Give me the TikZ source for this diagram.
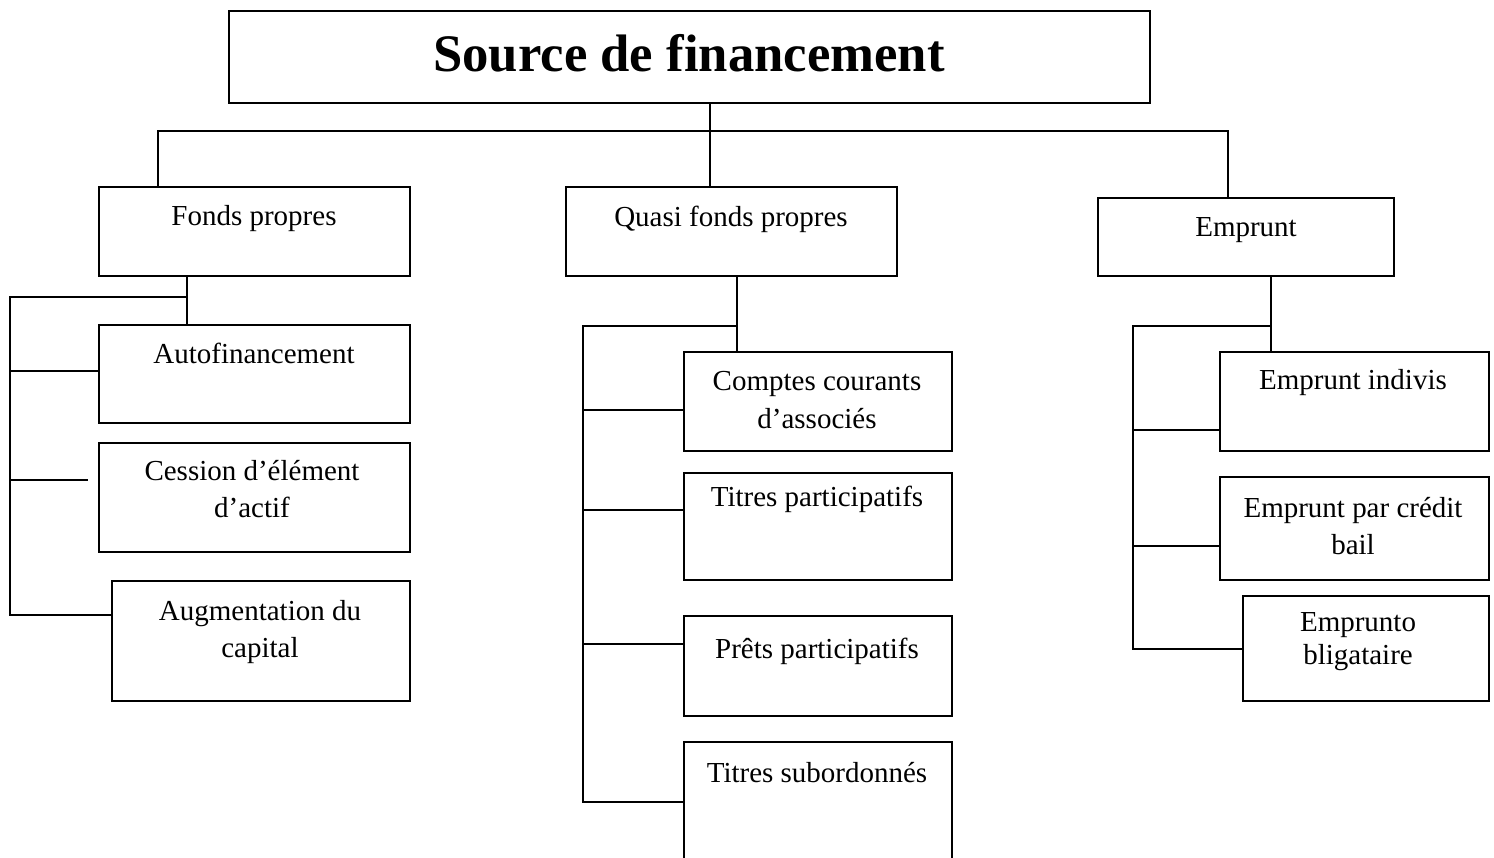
\documentclass[tikz,border=0pt]{standalone}
\usepackage{fontspec}
\setmainfont{Liberation Serif}
\usetikzlibrary{fit}
\tikzset{
  box/.style={draw, line width=0.9pt, inner sep=0pt},
  txt/.style={font=\fontsize{16.5}{21.5}\selectfont, align=center, inner sep=0pt},
  link/.style={line width=0.9pt},
}
\begin{document}
\begin{tikzpicture}[x=0.02cm, y=-0.02cm]
\useasboundingbox (0,0) rectangle (1494,858);

% ---------- title and the three families
\node[box, fit={(229,11) (1150,103)}] (title) {};
\node[font=\fontsize{30}{36}\selectfont\bfseries] (title-t) at (689,53) {Source de financement};
\node[box, fit={(99,187) (410,276)}] (fp) {};
\node[txt] (fp-t) at (254,219) {Fonds propres};
\node[box, fit={(566,187) (897,276)}] (qf) {};
\node[txt] (qf-t) at (731,219) {Quasi fonds propres};
\node[box, fit={(1098,198) (1394,276)}] (em) {};
\node[txt] (em-t) at (1246,230) {Emprunt};

\coordinate (bus) at (710,131); % the horizontal bar under the title
\draw[link] (title.south -| bus) -- (qf.north -| bus);
\draw[link] (fp.north -| 158,0) |- (bus) -| (em.north -| 1228,0);

% ---------- Fonds propres
\node[box, fit={(99,325) (410,423)}] (af) {};
\node[txt] (af-t) at (254,353) {Autofinancement};
\node[box, fit={(99,443) (410,552)}] (ce) {};
\node[txt] (ce-t) at (252,489) {Cession d’élément\\ d’actif};
\node[box, fit={(112,581) (410,701)}] (ac) {};
\node[txt] (ac-t) at (260,632) {Augmentation du\\ capital};

\coordinate (fpx) at (187,297);
\coordinate (l1) at (10,371);
\coordinate (l2) at (10,480);
\coordinate (l3) at (10,615);
\draw[link] (fp.south -| fpx) -- (af.north -| fpx);
\draw[link] (fpx) -| (l3) -- (l3 -| ac.west);
\draw[link] (l1) -- (l1 -| af.west);
\draw[link] (l2) -- ++(78,0); % stops short of the box
% ---------- Quasi fonds propres
\node[box, fit={(684,352) (952,451)}] (cc) {};
\node[txt] (cc-t) at (817,400) {Comptes courants\\ d’associés};
\node[box, fit={(684,473) (952,580)}] (tp) {};
\node[txt] (tp-t) at (817,499) {Titres participatifs};
\node[box, fit={(684,616) (952,716)}] (pp) {};
\node[txt] (pp-t) at (817,651) {Prêts participatifs};
\node[inner sep=0pt, outer sep=0pt, fit={(684,742) (952,858)}] (ts) {};
\draw[link] (ts.south west) -- (ts.north west) -- (ts.north east) -- (ts.south east); % open at the bottom
\node[txt] (ts-t) at (817,773) {Titres subordonnés};

\coordinate (qfx) at (737,326);
\coordinate (m1) at (583,410);
\coordinate (m2) at (583,510);
\coordinate (m3) at (583,644);
\coordinate (m4) at (583,802);
\draw[link] (qf.south -| qfx) -- (cc.north -| qfx);
\draw[link] (qfx) -| (m4) -- (m4 -| ts.west);
\draw[link] (m1) -- (m1 -| cc.west);
\draw[link] (m2) -- (m2 -| tp.west);
\draw[link] (m3) -- (m3 -| pp.west);

% ---------- Emprunt
\node[box, fit={(1220,352) (1489,451)}] (ei) {};
\node[txt] (ei-t) at (1353,383) {Emprunt indivis};
\node[box, fit={(1220,477) (1489,580)}] (cb) {};
\node[txt] (cb-t) at (1353,526) {Emprunt par crédit\\ bail};
\node[box, fit={(1243,596) (1489,701)}] (eo) {};
\node[txt, font=\fontsize{16.5}{18.8}\selectfont] (eo-t) at (1358,642) {Emprunto\\ bligataire};

\coordinate (emx) at (1271,326);
\coordinate (r1) at (1133,430);
\coordinate (r2) at (1133,546);
\coordinate (r3) at (1133,649);
\draw[link] (em.south -| emx) -- (ei.north -| emx);
\draw[link] (emx) -| (r3) -- (r3 -| eo.west);
\draw[link] (r1) -- (r1 -| ei.west);
\draw[link] (r2) -- (r2 -| cb.west);
\end{tikzpicture}
\end{document}
